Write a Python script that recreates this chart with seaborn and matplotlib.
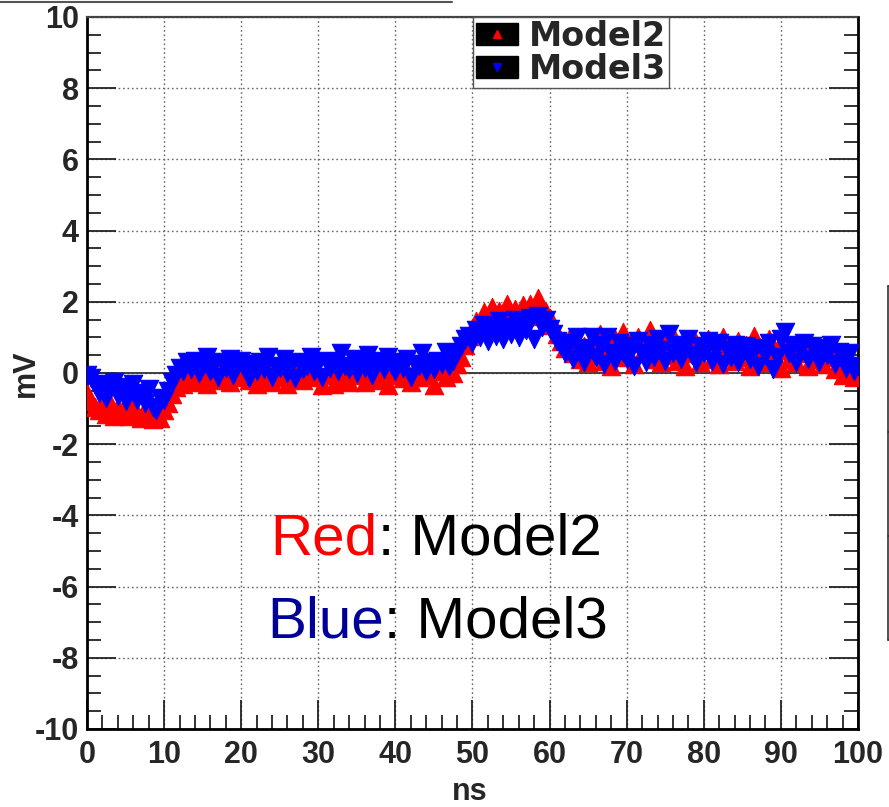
import numpy as np
import pandas as pd
import matplotlib
matplotlib.use("Agg")
import matplotlib.pyplot as plt
from matplotlib.patches import Rectangle
from matplotlib.lines import Line2D
from matplotlib.ticker import MultipleLocator
import seaborn as sns

# ---------------- data ----------------
time_ns = np.arange(0, 100.5, 0.5)

model2_mV = [
    -0.55, -0.80, -0.95, -1.05, -0.90, -1.15, -0.85, -1.20, -0.95, -1.10,
    -1.00, -1.20, -0.90, -1.15, -1.25, -1.00, -1.20, -1.30, -1.10, -1.25,
    -1.05, -0.85, -0.60, -0.40, -0.25, -0.30, -0.10, -0.20, -0.05, -0.25,
    -0.10, -0.30, 0.05, -0.20, 0.10, -0.15, 0.00, -0.25, 0.20, -0.10,
    0.25, -0.05, -0.20, 0.10, -0.30, 0.05, -0.15, 0.15, -0.25, 0.00,
    -0.10, 0.10, -0.30, 0.05, -0.15, 0.15, -0.20, 0.00, -0.05, 0.10,
    -0.10, -0.35, -0.05, 0.15, -0.30, 0.05, -0.20, 0.10, -0.25, 0.05,
    -0.05, 0.15, -0.25, 0.10, -0.10, 0.20, -0.20, 0.05, -0.35, 0.10,
    -0.05, 0.15, -0.15, 0.05, -0.25, 0.10, -0.10, 0.20, -0.05, 0.15,
    -0.35, 0.05, 0.30, -0.10, 0.10, 0.00, 0.25, 0.45, 0.80, 1.05,
    1.25, 1.45, 1.35, 1.70, 1.50, 1.85, 1.40, 1.75, 1.60, 1.95,
    1.55, 1.80, 1.45, 1.90, 1.65, 1.95, 1.60, 2.10, 1.80, 1.70,
    1.55, 1.35, 1.10, 0.90, 0.70, 0.95, 0.55, 0.80, 0.40, 0.75,
    0.30, 0.85, 0.50, 1.10, 0.35, 0.80, 0.20, 0.95, 0.60, 1.15,
    0.45, 0.85, 0.25, 1.00, 0.55, 0.70, 1.20, 0.40, 0.90, 0.30,
    0.80, 0.50, 1.05, 0.35, 0.75, 0.20, 0.90, 0.55, 0.85, 0.30,
    0.70, 0.95, 0.40, 0.80, 0.25, 1.00, 0.50, 0.75, 0.35, 0.90,
    0.45, 0.80, 0.20, 1.05, 0.55, 0.70, 0.30, 0.95, 0.45, 0.65,
    0.15, 0.85, 0.40, 0.70, 0.30, 0.75, 0.55, 0.20, 0.80, 0.40,
    0.65, 0.25, 0.70, 0.45, 0.10, 0.50, -0.05, 0.35, 0.00, -0.10,
    0.10,
]

model3_mV = [
    -0.05, -0.15, -0.35, -0.55, -0.30, -0.70, -0.45, -0.25, -0.65, -0.40,
    -0.80, -0.50, -0.30, -0.75, -0.55, -0.85, -0.45, -0.95, -1.05, -0.70,
    -0.75, -0.50, -0.25, -0.05, 0.15, 0.05, 0.30, 0.10, 0.35, 0.00,
    0.20, 0.45, 0.05, 0.25, -0.10, 0.30, 0.15, 0.40, -0.05, 0.20,
    0.35, 0.10, -0.15, 0.25, 0.05, 0.30, 0.10, 0.45, -0.10, 0.20,
    0.15, 0.40, 0.00, 0.25, -0.15, 0.30, 0.10, 0.20, 0.45, 0.05,
    0.25, -0.10, 0.35, 0.15, 0.30, 0.05, 0.55, 0.20, 0.10, 0.40,
    0.00, 0.30, 0.15, 0.50, -0.05, 0.25, 0.35, 0.10, 0.45, 0.20,
    0.05, 0.30, 0.15, 0.40, -0.10, 0.25, 0.20, 0.55, 0.05, 0.30,
    0.10, 0.35, 0.25, 0.60, 0.20, 0.35, 0.55, 0.75, 0.95, 1.05,
    0.85, 1.20, 1.00, 1.35, 0.90, 1.25, 1.05, 1.45, 0.95, 1.30,
    1.10, 1.50, 1.00, 1.40, 1.20, 1.55, 0.95, 1.60, 1.30, 1.50,
    1.25, 1.10, 0.90, 0.75, 0.55, 0.85, 0.40, 1.00, 0.60, 0.30,
    0.70, 1.00, 0.45, 0.80, 0.25, 1.00, 0.55, 0.35, 0.85, 0.60,
    0.40, 0.75, 0.20, 0.90, 0.55, 0.30, 0.80, 0.45, 0.95, 0.65,
    0.35, 1.10, 0.55, 0.80, 0.40, 0.70, 0.95, 0.50, 0.30, 0.75,
    0.55, 0.90, 0.35, 0.70, 0.85, 0.25, 0.65, 0.45, 0.80, 0.30,
    0.60, 0.75, 0.40, 0.65, 0.20, 0.70, 0.50, 0.85, 0.10, 0.45,
    0.95, 1.15, 0.55, 0.80, 0.30, 0.65, 0.85, 0.40, 0.75, 0.55,
    0.30, 0.70, 0.50, 0.80, 0.25, 0.60, 0.40, 0.15, 0.55, 0.05,
    0.20,
]

series_names = ["Model2", "Model3"]
series_colors = ["#ff0000", "#0000ff"]
series_markers = ["^", "v"]
x_ticks = [0, 10, 20, 30, 40, 50, 60, 70, 80, 90, 100]
y_ticks = [-10, -8, -6, -4, -2, 0, 2, 4, 6, 8, 10]

df = pd.concat([
    pd.DataFrame({"ns": time_ns, "mV": model2_mV, "model": "Model2"}),
    pd.DataFrame({"ns": time_ns, "mV": model3_mV, "model": "Model3"}),
])

# ---------------- figure ----------------
sns.set_style("white")
plt.rcParams["font.family"] = ["Liberation Sans", "DejaVu Sans"]

W, H = 889, 807
fig = plt.figure(figsize=(W / 100, H / 100), dpi=100)
ax = fig.add_axes([87 / W, 1 - 729 / H, (858 - 87) / W, (729 - 17) / H])

ax.set_xlim(0, 100)
ax.set_ylim(-10, 10)

# grid and zero line
ax.set_xticks(x_ticks)
ax.set_yticks(y_ticks)
ax.grid(True, which="major", linestyle=(0, (1.2, 2.0)), color="#666666", linewidth=1.0)
ax.axhline(0, color="#333333", linewidth=1.3, zorder=1)

for name, col, mk in zip(series_names, series_colors, series_markers):
    sns.scatterplot(data=df[df["model"] == name], x="ns", y="mV", ax=ax,
                    marker=mk, color=col, s=175, edgecolor=col, linewidth=0.8,
                    legend=False, zorder=3)

# ticks
ax.xaxis.set_minor_locator(MultipleLocator(2))
ax.yaxis.set_minor_locator(MultipleLocator(0.5))
ax.tick_params(axis="both", which="major", direction="in", length=21, width=1.3,
               color="#222222", labelsize=22)
ax.tick_params(axis="both", which="minor", direction="in", length=10, width=1.3,
               color="#222222")
ax.tick_params(axis="y", which="both", left=True, right=True)
ax.tick_params(axis="x", which="both", bottom=True, top=False)
ax.tick_params(axis="x", which="major", pad=8)
ax.tick_params(axis="y", which="major", pad=6)
ax.set_xticklabels([str(v) for v in x_ticks], fontweight="bold", fontsize=22)
ax.set_yticklabels([str(v) for v in y_ticks], fontweight="bold", fontsize=22)

for side in ["left", "bottom", "right"]:
    ax.spines[side].set_color("black")
    ax.spines[side].set_linewidth(2.0)
ax.spines["top"].set_color("#444444")
ax.spines["top"].set_linewidth(1.6)
ax.spines["top"].set_linestyle((0, (1.5, 1.0)))

ax.set_xlabel("ns", fontsize=22, fontweight="bold")
ax.set_ylabel("mV", fontsize=22, fontweight="bold")
ax.xaxis.set_label_coords(0.497, -0.068)
ax.yaxis.set_label_coords(-0.06, 0.5)

# legend
handles = []
for col, mk in zip(series_colors, series_markers):
    box = Rectangle((0, 0), 1, 1, facecolor="black", edgecolor="black")
    m = Line2D([], [], linestyle="none", marker=mk, color=col, markersize=6)
    handles.append((box, m))
leg = ax.legend(handles, series_names, loc="upper left", bbox_to_anchor=(0.501, 1.0),
                prop={"family": "DejaVu Sans", "weight": "bold", "size": 24},
                frameon=True, fancybox=False, framealpha=1, edgecolor="#555555",
                handlelength=1.25, handleheight=0.65, handletextpad=0.35,
                labelspacing=0.0, borderpad=0.08, borderaxespad=0.0)
leg.get_frame().set_linewidth(1.0)
leg.set_zorder(10)

# annotations
t1 = ax.text(23.8, -5.09, "Red", color="#ff0000", fontsize=42, ha="left", va="baseline")
ax.annotate(": Model2", xy=(1, 0), xycoords=t1, fontsize=42, color="black",
            ha="left", va="bottom")
t2 = ax.text(23.4, -7.42, "Blue", color="#000099", fontsize=42, ha="left", va="baseline")
ax.annotate(": Model3", xy=(1, 0), xycoords=t2, fontsize=42, color="black",
            ha="left", va="bottom")

# fragments of neighbouring panels
def px_line(x0, y0, x1, y1, **kw):
    fig.add_artist(Line2D([x0 / W, x1 / W], [1 - y0 / H, 1 - y1 / H],
                          transform=fig.transFigure, **kw))

px_line(0, 1.5, 452, 1.5, color="#555555", linewidth=1.5)
px_line(887.5, 286, 887.5, 640, color="#333333", linewidth=1.2)
for yy in (286, 432, 536, 640):
    px_line(887.5, yy, 889, yy, color="#333333", linewidth=1.2)

fig.savefig("out.png", dpi=100)
